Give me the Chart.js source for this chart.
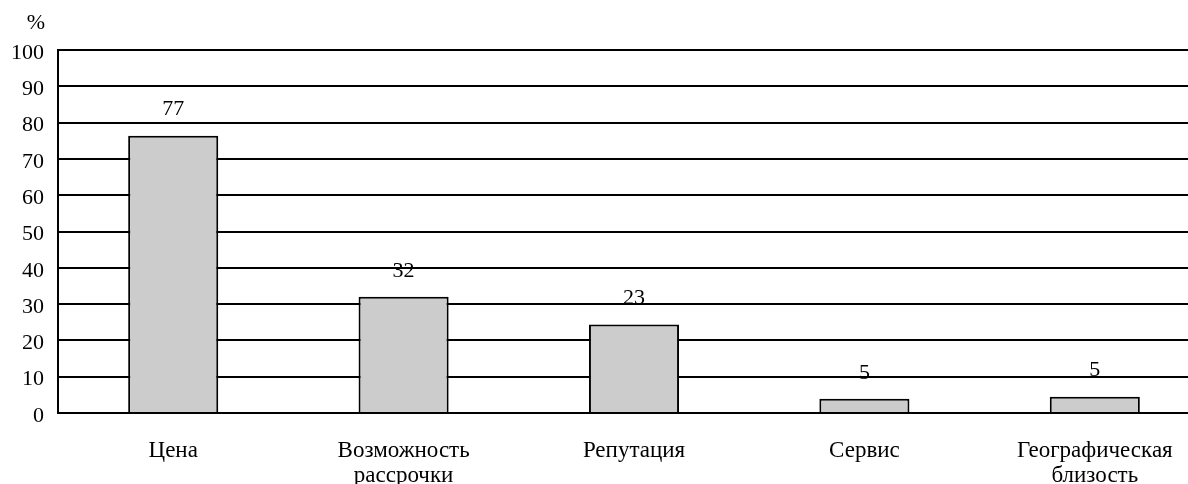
<!DOCTYPE html>
<html>
<head>
<meta charset="utf-8">
<script src="https://cdn.jsdelivr.net/npm/chart.js@4/dist/chart.umd.min.js"></script>
<style>
    html, body { margin: 0; padding: 0; background: #fff; overflow: hidden; }
    #wrap { width: 1188px; height: 484px; overflow: hidden; }
</style>
</head>
<body>
<div id="wrap"><canvas id="chart" width="1210" height="484"></canvas></div>
<script>
const categories = [
    'Цена',
    ['Возможность', 'рассрочки'],
    'Репутация',
    'Сервис',
    ['Географическая', 'близость']
];
// bar heights as drawn, and the numbers printed above them
const barValues = [76.4, 32, 24.4, 3.9, 4.5];
const valueLabels = ['77', '32', '23', '5', '5'];
const yTicks = [0, 10, 20, 30, 40, 50, 60, 70, 80, 90, 100];

const serif = "'Liberation Serif', 'Times New Roman', serif";

const valueLabelPlugin = {
    id: 'valueLabels',
    afterDatasetsDraw(chart) {
        const ctx = chart.ctx;
        const meta = chart.getDatasetMeta(0);
        ctx.save();
        ctx.fillStyle = '#000';
        ctx.font = '22px ' + serif;
        ctx.textAlign = 'center';
        ctx.textBaseline = 'middle';
        meta.data.forEach((bar, i) => {
            ctx.fillText(valueLabels[i], bar.x, bar.y - 26);
        });
        // unit sign above the y axis
        ctx.textAlign = 'right';
        ctx.fillText('%', chart.scales.y.right - 13, chart.chartArea.top - 27);
        ctx.restore();
    }
};

const ctx = document.getElementById('chart').getContext('2d');
new Chart(ctx, {
    type: 'bar',
    data: {
        labels: categories,
        datasets: [{
            data: barValues,
            backgroundColor: '#cccccc',
            borderColor: '#000',
            borderWidth: 2,
            categoryPercentage: 1,
            barPercentage: 0.391
        }]
    },
    options: {
        responsive: false,
        animation: false,
        devicePixelRatio: 1,
        layout: { padding: { top: 50, right: 0, bottom: 0, left: 0 } },
        plugins: {
            legend: { display: false },
            tooltip: { enabled: false }
        },
        scales: {
            x: {
                grid: { display: false },
                border: { display: false },
                ticks: {
                    color: '#000',
                    padding: 17,
                    maxRotation: 0,
                    autoSkip: false,
                    font: { family: serif, size: 23, lineHeight: 1.09 }
                },
                afterFit(scale) { scale.height = 71; }
            },
            y: {
                min: 0,
                max: 100,
                afterBuildTicks(scale) {
                    scale.ticks = yTicks.map(v => ({ value: v }));
                },
                grid: {
                    color: '#000',
                    lineWidth: 2,
                    drawTicks: false
                },
                border: { display: true, color: '#000', width: 2 },
                ticks: {
                    color: '#000',
                    padding: 14,
                    labelOffset: 3,
                    font: { family: serif, size: 22 }
                },
                afterFit(scale) { scale.width = 58; }
            }
        }
    },
    plugins: [valueLabelPlugin]
});
</script>
</body>
</html>
